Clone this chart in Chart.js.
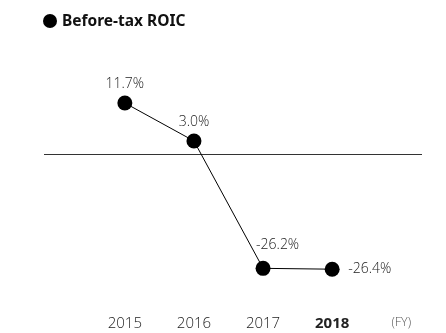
<!DOCTYPE html>
<html>
<head>
<meta charset="utf-8">
<script src="https://cdn.jsdelivr.net/npm/chart.js@4.4.0/dist/chart.umd.min.js"></script>
<style>
    html, body { margin: 0; padding: 0; background: #fff; }
    #wrap { width: 446px; height: 333px; position: relative; }
    #title {
        position: absolute; left: 43px; top: 9px;
        font: bold 15.5px "Noto Sans", sans-serif; color: #111;
        line-height: 22px; white-space: nowrap;
    }
    #title .dot {
        display: inline-block; width: 14px; height: 14px; border-radius: 50%;
        background: #000; vertical-align: -2px; margin-right: 5px;
    }
</style>
</head>
<body>
<div id="wrap">
    <div id="title"><span class="dot"></span><span id="titleText"></span></div>
    <canvas id="chart"></canvas>
</div>
<script>
// Chart data
const seriesName = 'Before-tax ROIC';
const years = ['2015', '2016', '2017', '2018'];
const tickLabels = ['2015', '2016', '2017', '2018', '(FY)'];
const roic = [11.7, 3.0, -26.2, -26.4];

// where each value label sits relative to its point
const labelPlacement = ['above', 'above', 'aboveRight', 'right'];

document.getElementById('titleText').textContent = seriesName;

// Draws the "11.7%" style labels next to each point
const valueLabels = {
    id: 'valueLabels',
    afterDatasetsDraw(chart) {
        const ctx = chart.ctx;
        const meta = chart.getDatasetMeta(0);
        ctx.save();
        ctx.font = '300 14px "Open Sans", "Noto Sans", sans-serif';
        ctx.fillStyle = '#222';
        ctx.textBaseline = 'middle';
        meta.data.forEach((pt, i) => {
            const text = roic[i].toFixed(1) + '%';
            const place = labelPlacement[i];
            if (place === 'above') {
                ctx.textAlign = 'center';
                ctx.fillText(text, pt.x, pt.y - 19);
            } else if (place === 'aboveRight') {
                ctx.textAlign = 'left';
                ctx.fillText(text, pt.x - 7, pt.y - 23);
            } else {
                ctx.textAlign = 'left';
                ctx.fillText(text, pt.x + 16, pt.y);
            }
        });
        ctx.restore();
    }
};

const ctx = document.getElementById('chart').getContext('2d');
new Chart(ctx, {
    type: 'line',
    data: {
        datasets: [{
            label: seriesName,
            data: roic.map((v, i) => ({ x: i, y: v })),
            borderColor: '#000',
            backgroundColor: '#000',
            borderWidth: 1,
            pointRadius: 7.5,
            pointHoverRadius: 7.5,
            pointBackgroundColor: '#000',
            pointBorderWidth: 0,
            tension: 0,
            clip: false
        }]
    },
    options: {
        responsive: true,
        maintainAspectRatio: false,
        animation: false,
        layout: { padding: { left: 44, right: 24, top: 40, bottom: 0 } },
        plugins: {
            legend: { display: false },
            tooltip: { enabled: false }
        },
        scales: {
            x: {
                type: 'linear',
                min: -1.17,
                max: 4.3,
                afterBuildTicks: (axis) => {
                    axis.ticks = tickLabels.map((_, i) => ({ value: i }));
                },
                grid: { display: false, drawTicks: false },
                border: { display: false },
                ticks: {
                    padding: 0,
                    color: (c) => c.index === 4 ? '#555' : '#222',
                    font: (c) => {
                        if (c.index === 3) return { family: '"Noto Sans", sans-serif', size: 15, weight: 'bold' };
                        if (c.index === 4) return { family: '"Open Sans", "Noto Sans", sans-serif', size: 12.5, weight: '300' };
                        return { family: '"Open Sans", "Noto Sans", sans-serif', size: 15, weight: '300' };
                    },
                    callback: (value) => tickLabels[value]
                }
            },
            y: {
                min: -36.9,
                max: 26.15,
                ticks: { display: false, stepSize: 10 },
                border: { display: false },
                grid: {
                    drawTicks: false,
                    color: (c) => c.tick && c.tick.value === 0 ? '#333' : 'rgba(0,0,0,0)',
                    lineWidth: 1
                }
            }
        }
    },
    plugins: [valueLabels]
});
</script>
</body>
</html>
